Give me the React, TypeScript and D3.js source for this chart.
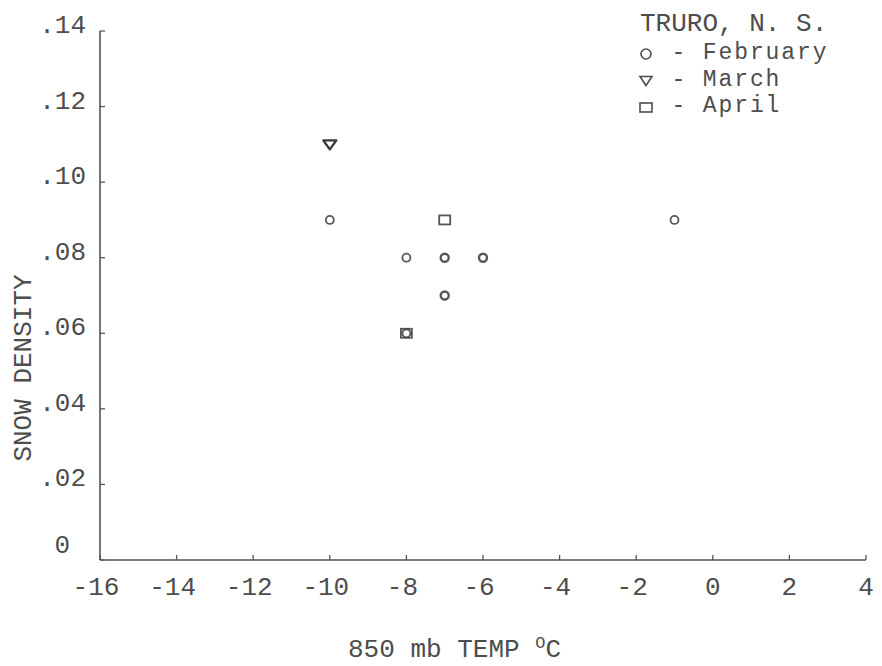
import React from "react";
import * as d3 from "d3";

// ---- data ----
const febTemp = [-10, -8, -7, -6, -7, -8, -1];
const febDensity = [0.09, 0.08, 0.08, 0.08, 0.07, 0.06, 0.09];
const marTemp = [-10];
const marDensity = [0.11];
const aprTemp = [-7, -8];
const aprDensity = [0.09, 0.06];

const xTicks = [-16, -14, -12, -10, -8, -6, -4, -2, 0, 2, 4];
const yTicks = [0, 0.02, 0.04, 0.06, 0.08, 0.1, 0.12, 0.14];
const yTickLabels = ["0", ".02", ".04", ".06", ".08", ".10", ".12", ".14"];

const legendTitle = "TRURO, N. S.";
const legendShapes = ["circle", "triangle", "square"];
const legendLabels = ["February", "March", "April"];

const W = 882;
const H = 666;
const FONT = "'Liberation Mono', 'DejaVu Sans Mono', monospace";
const INK = "#4d4d4d";
const MARK = "#3a3a3a";

function Tri({ cx, cy }: { cx: number; cy: number }) {
  const w = 6.5, h = 5;
  return (
    <path
      d={`M${cx - w},${cy - h + 1}L${cx + w},${cy - h + 1}L${cx},${cy + h}Z`}
      fill="none"
      stroke={MARK}
      strokeWidth={2.4}
      strokeLinejoin="round"
    />
  );
}
function Sq({ cx, cy }: { cx: number; cy: number }) {
  return (
    <rect x={cx - 5.5} y={cy - 4.5} width={11} height={9} fill="none" stroke={MARK} strokeWidth={1.8} opacity={0.85} />
  );
}
function Circ({ cx, cy, sw = 1.8 }: { cx: number; cy: number; sw?: number }) {
  return <circle cx={cx} cy={cy} r={4} fill="none" stroke={MARK} strokeWidth={sw} opacity={0.85} />;
}

export default function App() {
  const x = d3.scaleLinear().domain([-16, 4]).range([100, 866]);
  const y = d3.scaleLinear().domain([0, 0.14]).range([560, 31]);

  const feb = febTemp.map((t, i) => ({ t, d: febDensity[i] }));
  const mar = marTemp.map((t, i) => ({ t, d: marDensity[i] }));
  const apr = aprTemp.map((t, i) => ({ t, d: aprDensity[i] }));

  const axisColor = "#555";
  const lx = 640;
  const charW = 15.7;
  const lineH = 26.5;
  const firstBase = 59;

  return (
    <svg
      width={W}
      height={H}
      style={{ position: "absolute", left: 0, top: 0, background: "#fff" }}
      fontFamily={FONT}
    >
      <rect width={W} height={H} fill="#fff" />
      {/* axes */}
      <line x1={x(-16)} x2={x(-16)} y1={y(0.14)} y2={y(0)} stroke={axisColor} strokeWidth={1.6} />
      <line x1={x(-16)} x2={x(4)} y1={y(0)} y2={y(0)} stroke={axisColor} strokeWidth={1.6} />
      {yTicks.map((v) => (
        <line key={"yt" + v} x1={x(-16)} x2={x(-16) + 5} y1={y(v)} y2={y(v)} stroke={axisColor} strokeWidth={1.3} />
      ))}
      {xTicks.map((v) => (
        <line key={"xt" + v} x1={x(v)} x2={x(v)} y1={y(0)} y2={y(0) - 5} stroke={axisColor} strokeWidth={1.3} />
      ))}
      {/* y tick labels */}
      {yTicks.map((v, i) => (
        <text
          key={"yl" + v}
          x={v === 0 ? 70 : 86}
          y={y(v) + (v === 0 ? -7 : 2)}
          textAnchor="end"
          fontSize={26}
          fill={INK}
        >
          {yTickLabels[i]}
        </text>
      ))}
      {/* x tick labels */}
      {xTicks.map((v) => (
        <text key={"xl" + v} x={x(v) - (v < 0 ? 4 : 0)} y={595} textAnchor="middle" fontSize={26} fill={INK}>
          {String(v)}
        </text>
      ))}
      {/* axis titles */}
      <text x={348} y={657} fontSize={26} fill={INK} xmlSpace="preserve">
        850 mb TEMP{" "}
        <tspan fontSize={17} dy={-9}>O</tspan>
        <tspan dy={9}>C</tspan>
      </text>
      <text
        transform={`translate(31,368) rotate(-90)`}
        textAnchor="middle"
        fontSize={26}
        fill={INK}
      >
        SNOW DENSITY
      </text>
      {/* data */}
      {feb.map((p, i) => (
        <Circ key={"f" + i} cx={x(p.t)} cy={y(p.d)} sw={p.t === -7 || p.t === -6 ? 2.4 : 1.8} />
      ))}
      {mar.map((p, i) => (
        <Tri key={"m" + i} cx={x(p.t)} cy={y(p.d)} />
      ))}
      {apr.map((p, i) => (
        <Sq key={"a" + i} cx={x(p.t)} cy={y(p.d)} />
      ))}
      {/* legend */}
      <text x={lx} y={31} fontSize={26} fill={INK}>
        {legendTitle}
      </text>
      {legendShapes.map((shape, i) => {
        const cx = lx + 6;
        const cy = firstBase + i * lineH - 5;
        return (
          <g key={shape}>
            {shape === "circle" && <circle cx={cx} cy={cy} r={5} fill="none" stroke={INK} strokeWidth={1.6} />}
            {shape === "triangle" && (
              <path
                d={`M${cx - 6},${cy - 4}L${cx + 6},${cy - 4}L${cx},${cy + 5}Z`}
                fill="none"
                stroke={INK}
                strokeWidth={1.6}
              />
            )}
            {shape === "square" && (
              <rect x={cx - 6} y={cy - 4} width={12} height={9} fill="none" stroke={INK} strokeWidth={1.6} />
            )}
          </g>
        );
      })}
      {legendLabels.map((lab, i) => (
        <text
          key={lab}
          x={lx + 2 * charW}
          y={firstBase + i * lineH}
          fontSize={23}
          letterSpacing={1.9}
          fill={INK}
          xmlSpace="preserve"
        >
          {"- " + lab}
        </text>
      ))}
    </svg>
  );
}
